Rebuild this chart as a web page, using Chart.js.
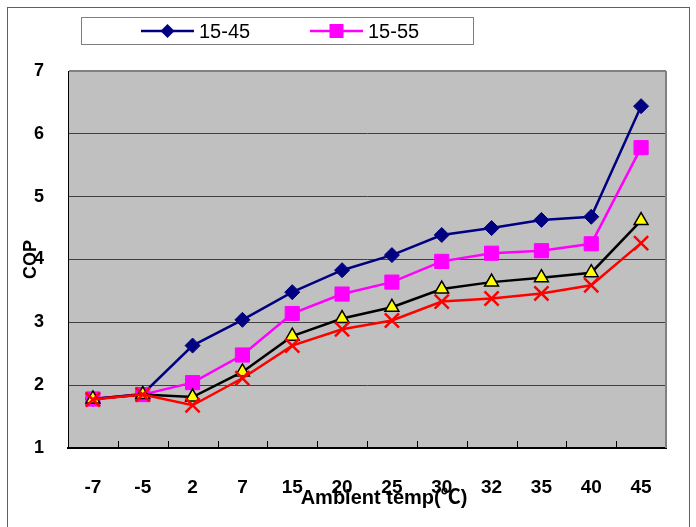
<!DOCTYPE html>
<html>
<head>
<meta charset="utf-8">
<script src="https://cdn.jsdelivr.net/npm/chart.js@4/dist/chart.umd.min.js"></script>
<style>
html,body{margin:0;padding:0;background:#fff;}
canvas{display:block;}
</style>
</head>
<body>
<canvas id="c" width="696" height="527"></canvas>
<script>
// ---- data ----
const categories = ['-7','-5','2','7','15','20','25','30','32','35','40','45'];
const series1545 = [1.78,1.86,2.63,3.04,3.48,3.83,4.07,4.39,4.50,4.63,4.68,6.44];
const series1555 = [1.78,1.85,2.04,2.48,3.14,3.45,3.64,3.97,4.10,4.14,4.25,5.78];
const seriesTri  = [1.78,1.85,1.81,2.21,2.78,3.06,3.24,3.53,3.64,3.71,3.79,4.62];
const seriesX    = [1.77,1.85,1.68,2.11,2.63,2.89,3.03,3.33,3.38,3.46,3.59,4.26];
const yTicks = [1,2,3,4,5,6,7];
const legendNames = ['15-45','15-55'];
const yTitle = 'COP';
const xTitle = 'Ambient temp(\u2103)';

const FONT = "'Liberation Sans', Arial, 'Noto Sans CJK SC', sans-serif";

const decor = {
  id: 'decor',
  beforeDraw(chart) {
    const {ctx, chartArea: a} = chart;
    ctx.save();
    ctx.fillStyle = '#fff';
    ctx.fillRect(0, 0, chart.width, chart.height);
    ctx.fillStyle = '#C0C0C0';
    ctx.fillRect(a.left, a.top, a.right - a.left, a.bottom - a.top);
    ctx.restore();
  },
  afterDraw(chart) {
    const {ctx, chartArea: a} = chart;
    const xs = chart.scales.x;
    ctx.save();
    // top and right plot border
    ctx.strokeStyle = '#808080';
    ctx.lineWidth = 2;
    ctx.beginPath();
    ctx.moveTo(a.left + 1, a.top); ctx.lineTo(a.right, a.top);
    ctx.moveTo(a.right, a.top); ctx.lineTo(a.right, a.bottom);
    ctx.stroke();
    // inner ticks on x axis at category boundaries
    ctx.strokeStyle = '#000';
    ctx.lineWidth = 1;
    for (let i = 1; i < categories.length; i++) {
      const px = Math.round(xs.getPixelForValue(i - 0.5)) + 0.5;
      ctx.beginPath();
      ctx.moveTo(px, a.bottom); ctx.lineTo(px, a.bottom - 7);
      ctx.stroke();
    }
    // outer frame
    ctx.strokeStyle = '#606060';
    ctx.lineWidth = 1;
    ctx.strokeRect(7.5, 7.5, 682, 560);
    // legend box
    ctx.strokeStyle = '#808080';
    ctx.strokeRect(81.5, 17.5, 392, 27);
    const ly = 31;
    const items = [
      {ds: chart.data.datasets[0], x0: 141, name: legendNames[0]},
      {ds: chart.data.datasets[1], x0: 310, name: legendNames[1]}
    ];
    items.forEach(it => {
      ctx.strokeStyle = it.ds.borderColor;
      ctx.lineWidth = 2.5;
      ctx.beginPath();
      ctx.moveTo(it.x0, ly); ctx.lineTo(it.x0 + 53, ly);
      ctx.stroke();
      const cx = it.x0 + 26.5;
      ctx.fillStyle = it.ds.pointBackgroundColor;
      ctx.beginPath();
      if (it.ds.pointStyle === 'rectRot') {
        const r = 7;
        ctx.moveTo(cx, ly - r); ctx.lineTo(cx + r, ly); ctx.lineTo(cx, ly + r); ctx.lineTo(cx - r, ly);
        ctx.closePath();
      } else {
        ctx.rect(cx - 7, ly - 7, 14, 14);
      }
      ctx.fill();
      ctx.fillStyle = '#000';
      ctx.font = '20px ' + FONT;
      ctx.textBaseline = 'middle';
      ctx.textAlign = 'left';
      ctx.fillText(it.name, it.x0 + 58, ly + 1);
    });
    // x axis title
    ctx.fillStyle = '#000';
    ctx.font = 'bold 20px ' + FONT;
    ctx.textAlign = 'center';
    ctx.textBaseline = 'middle';
    ctx.fillText(xTitle, (a.left + a.right) / 2 + 17, 498);
    ctx.restore();
  }
};

new Chart(document.getElementById('c'), {
  type: 'line',
  data: {
    labels: categories,
    datasets: [
      {label: legendNames[0], data: series1545, borderColor: '#000080', backgroundColor: '#000080',
       pointBackgroundColor: '#000080', pointBorderColor: '#000080', pointStyle: 'rectRot',
       pointRadius: 7.5, pointBorderWidth: 1, borderWidth: 2.5, order: 3},
      {label: legendNames[1], data: series1555, borderColor: '#FF00FF', backgroundColor: '#FF00FF',
       pointBackgroundColor: '#FF00FF', pointBorderColor: '#FF00FF', pointStyle: 'rect',
       pointRadius: 10, pointBorderWidth: 1, borderWidth: 2.5, order: 2},
      {label: 'series3', data: seriesTri, borderColor: '#000000', backgroundColor: '#FFFF00',
       pointBackgroundColor: '#FFFF00', pointBorderColor: '#000000', pointStyle: 'triangle',
       pointRadius: 8, pointBorderWidth: 1.5, borderWidth: 2.5, order: 1},
      {label: 'series4', data: seriesX, borderColor: '#FF0000', backgroundColor: '#FF0000',
       pointBackgroundColor: '#FF0000', pointBorderColor: '#FF0000', pointStyle: 'crossRot',
       pointRadius: 10, pointBorderWidth: 2.5, borderWidth: 2.5, order: 0}
    ]
  },
  options: {
    responsive: false,
    animation: false,
    devicePixelRatio: 1,
    layout: {padding: {top: 71, right: 30, bottom: 0, left: 0}},
    plugins: {legend: {display: false}, tooltip: {enabled: false}},
    elements: {line: {tension: 0}},
    scales: {
      x: {
        offset: true,
        grid: {display: false, offset: true},
        border: {display: true, color: '#000', width: 2},
        ticks: {color: '#000', font: {family: FONT, size: 19, weight: 'bold'}, padding: 20, maxRotation: 0, autoSkip: false},
        afterFit(s) { s.height = 79; }
      },
      y: {
        min: yTicks[0], max: yTicks[yTicks.length - 1],
        afterBuildTicks(s) { s.ticks = yTicks.map(v => ({value: v})); },
        grid: {color: '#404040', lineWidth: 1, drawTicks: false},
        border: {display: true, color: '#000', width: 1},
        ticks: {color: '#000', font: {family: FONT, size: 18, weight: 'bold'}, padding: 24},
        title: {display: true, text: yTitle, color: '#000', font: {family: FONT, size: 18, weight: 'bold'}, padding: {top: 20, bottom: 0}},
        afterFit(s) { s.width = 68; }
      }
    }
  },
  plugins: [decor]
});
</script>
</body>
</html>
